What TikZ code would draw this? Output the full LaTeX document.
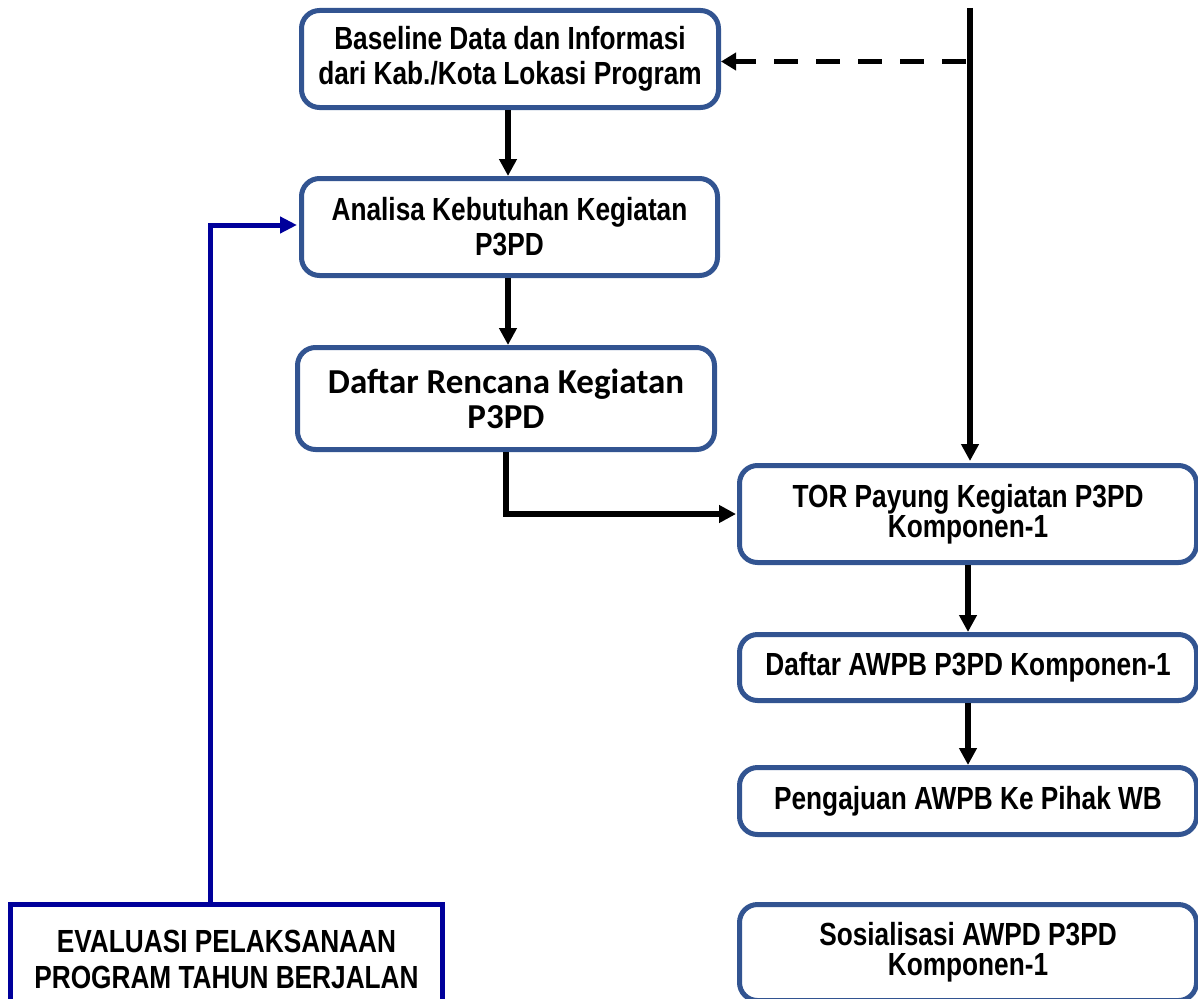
\documentclass[tikz,border=0pt]{standalone}
\usepackage{fontspec}
\newfontfamily\narrowfont{Liberation Sans}[FakeStretch=0.82]
\newfontfamily\calfont{Carlito}
\usetikzlibrary{arrows.meta}
\definecolor{boxblue}{RGB}{50,84,145}
\definecolor{evalblue}{RGB}{0,0,155}
\begin{document}
\begin{tikzpicture}[x=1pt,y=-1pt,
  box/.style={draw=boxblue, line width=5pt, rounded corners=18pt, fill=white,
    align=center, inner sep=0pt, minimum width=457pt,
    font=\narrowfont\bfseries\fontsize{32}{35}\selectfont},
  tight/.style={font=\narrowfont\bfseries\fontsize{32}{30}\selectfont},
  evalbox/.style={draw=evalblue, line width=5pt, fill=white, align=center,
    inner sep=0pt, minimum width=432pt, minimum height=110pt,
    font=\narrowfont\bfseries\fontsize{32}{36}\selectfont},
  conn/.style={line width=6pt, -{Triangle[length=17pt,width=17pt]}},
  bconn/.style={line width=5pt, draw=evalblue, -{Triangle[length=17pt,width=16pt]}},
  dconn/.style={line width=5.5pt, dash pattern=on 24pt off 18pt, dash phase=37.5pt,
    -{Triangle[length=15pt,width=17pt]}}
]
\useasboundingbox (0,0) rectangle (1198,998);

\node[box, minimum width=417pt, minimum height=97pt] (b1) at (510,59)
  {Baseline Data dan Informasi\\dari Kab./Kota Lokasi Program};
\node[box, minimum width=416pt, minimum height=97pt] (b2) at (509.5,227)
  {Analisa Kebutuhan Kegiatan\\P3PD};
\node[box, minimum width=417pt, minimum height=102pt,
  font=\calfont\bfseries\fontsize{35}{35}\selectfont] (b3) at (506,398.5)
  {Daftar Rencana Kegiatan\\P3PD};
\node[box, tight, minimum height=97pt] (tor) at (968,514)
  {TOR Payung Kegiatan P3PD\\Komponen-1};
\node[box, minimum height=66pt] (awpb) at (968,667.5)
  {Daftar AWPB P3PD Komponen-1};
\node[box, minimum height=67pt] (aju) at (968,801)
  {Pengajuan AWPB Ke Pihak WB};
\node[box, tight, minimum height=96pt] (sos) at (968,952.5)
  {Sosialisasi AWPD P3PD\\Komponen-1};
\node[evalbox] (eval) at (226.5,959.5)
  {EVALUASI PELAKSANAAN\\PROGRAM TAHUN BERJALAN};

\coordinate (vtop) at (970,8);
\coordinate (dstart) at (970,61.5);

\draw[conn, shorten >=2pt] (vtop) -- (vtop |- tor.north);
\draw[dconn] (dstart) -- (dstart -| b1.east);
\draw[conn] ([xshift=-2pt]b1.south) -- ([xshift=-2pt]b1.south |- b2.north);
\draw[conn] ([xshift=-1.5pt]b2.south) -- ([xshift=-1.5pt]b2.south |- b3.north);
\draw[conn, shorten >=1pt] (b3.south) |- (tor.west);
\draw[conn] (tor.south) -- (awpb.north);
\draw[conn] (awpb.south) -- (aju.north);
\draw[bconn, shorten >=2pt] ([xshift=-16.5pt]eval.north) |- ([yshift=2pt]b2.west);
\end{tikzpicture}
\end{document}
